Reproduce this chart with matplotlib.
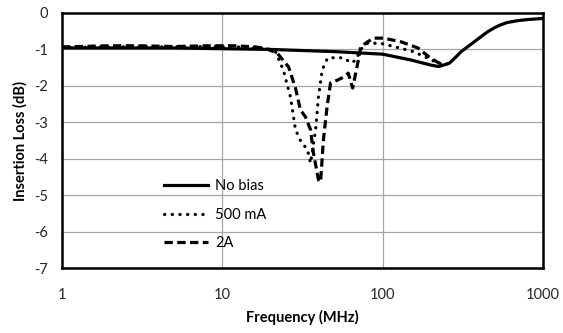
import numpy as np
import matplotlib
matplotlib.use("Agg")
import matplotlib.pyplot as plt

plt.rcParams['font.family'] = ['Lato', 'DejaVu Sans']
plt.rcParams['axes.unicode_minus'] = False

# Curvas (frequência em MHz, perda de inserção em dB)
f_nobias = [1, 2, 5, 10, 20, 50, 100, 150, 200, 224, 260, 280, 309, 350, 391, 450, 500,
            548, 600, 697, 800, 1000]
il_nobias = [-0.96, -0.96, -0.96, -0.98, -1.0, -1.06, -1.13, -1.29, -1.43, -1.47, -1.38,
             -1.25, -1.06, -0.88, -0.72, -0.52, -0.4, -0.32, -0.26, -0.21, -0.18, -0.15]

f_500ma = [1, 2, 3, 5, 8, 12, 16, 19, 21.4, 24, 26.6, 28.6, 30.7, 34, 35.5, 38.2, 39.8,
           42, 45.3, 52, 58, 63, 68, 73, 80.5, 97, 117, 156, 191, 220, 240, 260]
il_500ma = [-0.95, -0.93, -0.93, -0.93, -0.92, -0.93, -0.95, -0.98, -1.05, -1.56, -2.3,
            -3.2, -3.5, -3.76, -4.12, -3.2, -2.3, -1.56, -1.24, -1.22, -1.24, -1.37,
            -1.3, -1.0, -0.83, -0.83, -0.92, -1.06, -1.24, -1.37, -1.42, -1.38]

f_2a = [1, 2, 3, 5, 8, 12, 16, 18.5, 22, 25.9, 28.6, 30.7, 33, 35.5, 37, 39.8, 41,
        42.7, 45, 47.3, 52.4, 57, 61, 65, 70, 72.9, 80, 88, 101, 130, 166, 199, 224,
        250]
il_2a = [-0.93, -0.9, -0.9, -0.92, -0.9, -0.9, -0.93, -0.97, -1.1, -1.48, -2.06, -2.66,
         -2.85, -3.2, -3.84, -4.58, -4.64, -3.49, -2.58, -1.92, -1.84, -1.76, -1.65,
         -2.06, -1.37, -0.93, -0.8, -0.69, -0.69, -0.79, -0.96, -1.24, -1.37, -1.42]

fig = plt.figure(figsize=(5.63, 3.33), dpi=100)
ax = fig.add_axes([0.110, 0.195, 0.8545, 0.766])

ax.plot(f_nobias, il_nobias, color='black', lw=2.3, label='No bias', zorder=3)
ax.plot(f_500ma, il_500ma, color='black', lw=2.3, linestyle=(0, (0.1, 2.3)),
        dash_capstyle='round', label='500 mA', zorder=3)
ax.plot(f_2a, il_2a, color='black', lw=2.3, linestyle=(0, (2.6, 1.4)), label='2A', zorder=3)

ax.set_xscale('log')
ax.set_xlim(1, 1000)
ax.set_ylim(-7, 0)
ax.set_xticks([1, 10, 100, 1000])
ax.set_xticklabels(['1', '10', '100', '1000'])
ax.xaxis.set_minor_locator(matplotlib.ticker.NullLocator())
ax.set_yticks(range(-7, 1))
ax.tick_params(length=0, labelsize=10.5, colors='#262626')
ax.tick_params(axis='x', pad=14)
ax.tick_params(axis='y', pad=10)
ax.grid(True, color='#a6a6a6', lw=0.9)
ax.set_axisbelow(True)
for s in ax.spines.values():
    s.set_linewidth(1.8)

ax.set_xlabel('Frequency (MHz)', fontsize=10.5, fontweight='bold', labelpad=6)
ax.set_ylabel('Insertion Loss (dB)', fontsize=10.5, fontweight='bold', labelpad=5)

leg = ax.legend(loc='upper left', bbox_to_anchor=(0.185, 0.40), frameon=False,
                fontsize=10.5, handlelength=3.0, labelspacing=1.0, handletextpad=0.5)
leg.set_zorder(5)

fig.savefig('out.png', dpi=100)
